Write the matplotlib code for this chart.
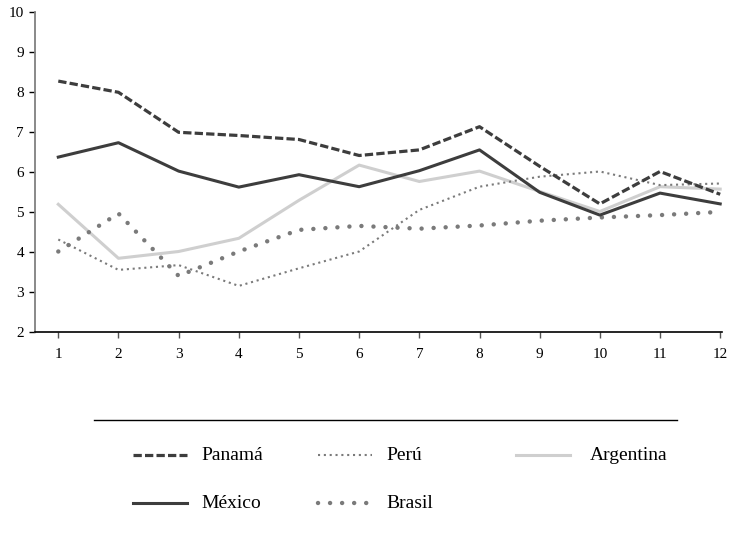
import matplotlib
matplotlib.use("Agg")
import matplotlib.pyplot as plt
from matplotlib.lines import Line2D

plt.rcParams['font.family'] = ['Liberation Serif', 'DejaVu Serif']

meses = [1, 2, 3, 4, 5, 6, 7, 8, 9, 10, 11, 12]
panama = [8.28, 8.0, 7.0, 6.92, 6.82, 6.42, 6.56, 7.14, 6.15, 5.21, 6.02, 5.45]
mexico = [6.38, 6.74, 6.03, 5.63, 5.94, 5.64, 6.04, 6.56, 5.5, 4.93, 5.48, 5.21]
argentina = [5.2, 3.85, 4.02, 4.35, 5.3, 6.18, 5.77, 6.03, 5.52, 5.02, 5.64, 5.58]
peru = [4.32, 3.56, 3.68, 3.16, 3.6, 4.02, 5.06, 5.64, 5.89, 6.02, 5.68, 5.72]
brasil = [4.02, 4.97, 3.41, 4.02, 4.56, 4.66, 4.59, 4.67, 4.79, 4.87, 4.93, 5.01]

W, H = 732, 534
fig = plt.figure(figsize=(W / 100, H / 100), dpi=100)
ax = fig.add_axes([35 / W, 1 - 332.3 / H, 687 / W, 320 / H])

estilos = {
    'Panamá': dict(color='#3d3d3d', lw=2.3, dashes=(2.6, 1.0)),
    'Perú': dict(color='#7a7a7a', lw=1.5, dashes=(1.0, 1.8)),
    'Argentina': dict(color='#cfcfcf', lw=2.2),
    'México': dict(color='#3d3d3d', lw=2.2),
    'Brasil': dict(color='#7a7a7a', lw=3.2, dashes=(0.01, 2.7), dash_capstyle='round'),
}
series = {'Panamá': panama, 'Perú': peru, 'Argentina': argentina,
          'México': mexico, 'Brasil': brasil}

# draw order: light ones first
for nombre in ['Argentina', 'Perú', 'Brasil', 'México', 'Panamá']:
    ax.plot(meses, series[nombre], **estilos[nombre])

ax.set_xlim(0.613, 12.03)
ax.set_ylim(2, 10)
ax.set_xticks(meses)
ax.set_yticks(range(2, 11))
ax.spines['top'].set_visible(False)
ax.spines['right'].set_visible(False)
ax.spines['left'].set_color('#808080')
ax.spines['left'].set_linewidth(1.3)
ax.spines['bottom'].set_linewidth(1.2)
ax.tick_params(axis='y', direction='out', length=4, width=1.0, pad=4, labelsize=11)
ax.tick_params(axis='x', direction='out', length=4, width=1.0, color='#555555', pad=7, labelsize=11)

# legend, laid out by hand
fig.add_artist(Line2D([94 / W, 677 / W], [1 - 420 / H, 1 - 420 / H], color='black', lw=1.0))
posiciones = {
    'Panamá': (133, 455), 'Perú': (318, 455), 'Argentina': (516, 455),
    'México': (133, 503), 'Brasil': (318, 503),
}
for nombre, (px, py) in posiciones.items():
    y = 1 - py / H
    fig.add_artist(Line2D([px / W, (px + 54) / W], [y, y], **estilos[nombre]))
    tx = 590 if nombre == 'Argentina' else px + 68
    fig.text(tx / W, y, nombre, fontsize=14, va='center', ha='left')

fig.savefig('out.png', dpi=100)
